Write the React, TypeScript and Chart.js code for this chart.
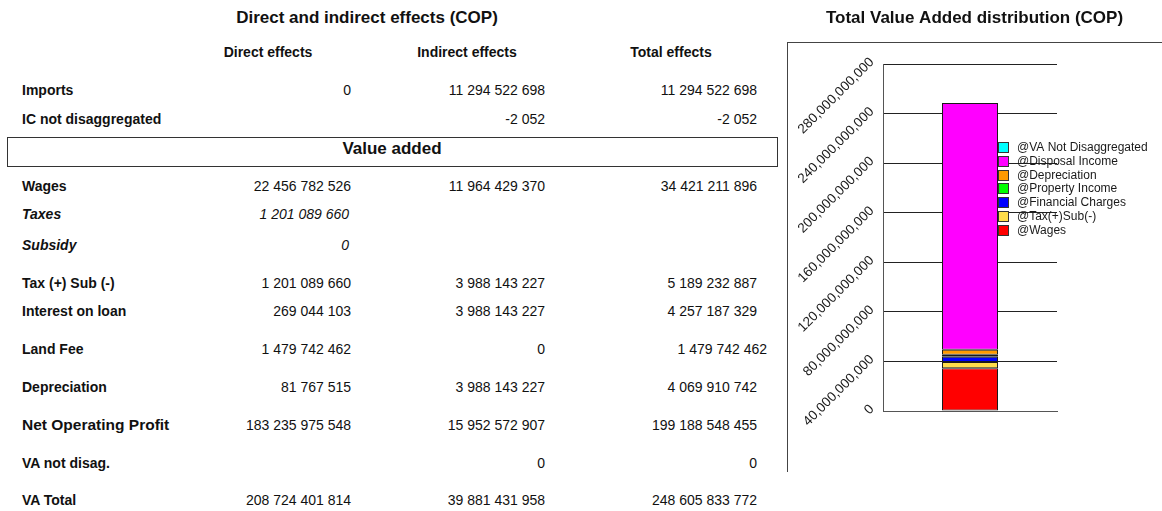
import React, { useEffect, useRef } from 'react';
import { Chart, registerables } from 'chart.js';

Chart.register(...registerables);

const FONT = '"Liberation Sans", Arial, sans-serif';

// ---------- Table data ----------
const tableTitle = 'Direct and indirect effects (COP)';
const columnHeaders = ['Direct effects', 'Indirect effects', 'Total effects'];
const sectionTitle = 'Value added';
const rowLabels = [
  'Imports',
  'IC not disaggregated',
  'Wages',
  'Taxes',
  'Subsidy',
  'Tax (+) Sub (-)',
  'Interest on loan',
  'Land Fee',
  'Depreciation',
  'Net Operating Profit',
  'VA not disag.',
  'VA Total',
];
const directEffects: (number | null)[] = [
  0, null, 22456782526, 1201089660, 0, 1201089660, 269044103, 1479742462, 81767515, 183235975548, null, 208724401814,
];
const indirectEffects: (number | null)[] = [
  11294522698, -2052, 11964429370, null, null, 3988143227, 3988143227, 0, 3988143227, 15952572907, 0, 39881431958,
];
const totalEffects: (number | null)[] = [
  11294522698, -2052, 34421211896, null, null, 5189232887, 4257187329, 1479742462, 4069910742, 199188548455, 0, 248605833772,
];

// ---------- Chart data ----------
const chartTitle = 'Total Value Added distribution (COP)';
const vaComponents = [
  '@Wages',
  '@Tax(+)Sub(-)',
  '@Financial Charges',
  '@Property Income',
  '@Depreciation',
  '@Disposal Income',
  '@VA Not Disaggregated',
];
const vaValues = [34421211896, 5189232887, 4257187329, 1479742462, 4069910742, 199188548455, 0];
const vaColors = ['#FF0000', '#FFDD4A', '#0000FF', '#00FF00', '#FF9900', '#FF00FF', '#00FFFF'];
const yAxisMin = 0;
const yAxisMax = 280000000000;
const yAxisStep = 40000000000;

// ---------- Layout (positions only) ----------
const rowY = [90, 119, 186, 214, 245, 283, 311, 349, 387, 425, 463, 500];
const italicRows = [3, 4];
const largeRows = [9];
const colRight = [351, 545, 757];
const colCenter = [268, 467, 671];

const fmt = (n: number | null) =>
  n === null ? '' : String(n).replace(/\B(?=(\d{3})+(?!\d))/g, ' ');

type TProps = {
  x: number;
  y: number;
  align?: 'left' | 'right' | 'center';
  size?: number;
  bold?: boolean;
  italic?: boolean;
  children: React.ReactNode;
};

function T({ x, y, align = 'left', size = 14, bold = false, italic = false, children }: TProps) {
  const w = 400;
  const left = align === 'left' ? x : align === 'right' ? x - w : x - w / 2;
  return (
    <div
      style={{
        position: 'absolute',
        left,
        top: y - 10,
        width: w,
        height: 20,
        lineHeight: '20px',
        textAlign: align,
        fontFamily: FONT,
        fontSize: size,
        fontWeight: bold ? 'bold' : 'normal',
        fontStyle: italic ? 'italic' : 'normal',
        color: '#111',
        whiteSpace: 'nowrap',
      }}
    >
      {children}
    </div>
  );
}

function VAChart() {
  const ref = useRef<HTMLCanvasElement>(null);
  useEffect(() => {
    if (!ref.current) return;
    const titlePlugin = {
      id: 'customTitle',
      afterDraw(chart: any) {
        const { ctx } = chart;
        ctx.save();
        ctx.font = `bold 17px ${FONT}`;
        ctx.fillStyle = '#111';
        ctx.textAlign = 'center';
        ctx.textBaseline = 'middle';
        ctx.fillText(chartTitle, chart.width / 2, 18);
        ctx.restore();
      },
    };
    const legendPlugin = {
      id: 'overlayLegend',
      afterDraw(chart: any) {
        const { ctx, chartArea } = chart;
        const bar = chart.getDatasetMeta(0).data[0] as any;
        const x0 = Math.round(bar.x + bar.width / 2);
        const top = chartArea.top + 78;
        ctx.save();
        ctx.font = `12px ${FONT}`;
        ctx.textBaseline = 'middle';
        ctx.textAlign = 'left';
        const ds = chart.data.datasets;
        for (let k = 0; k < ds.length; k++) {
          const d = ds[ds.length - 1 - k];
          const y = Math.round(top + k * 13.8);
          ctx.fillStyle = d.backgroundColor;
          ctx.fillRect(x0, y, 10, 10);
          ctx.strokeStyle = '#333';
          ctx.lineWidth = 1;
          ctx.strokeRect(x0 + 0.5, y + 0.5, 10, 10);
          ctx.fillStyle = '#1a1a1a';
          ctx.fillText(d.label, x0 + 19, y + 5.5);
        }
        ctx.restore();
      },
    };
    const chart = new Chart(ref.current, {
      type: 'bar',
      data: {
        labels: ['VA'],
        datasets: vaComponents.map((label, i) => ({
          label,
          data: [vaValues[i]],
          backgroundColor: vaColors[i],
          borderColor: '#1a1a1a',
          borderWidth: 1,
          borderSkipped: false,
          barPercentage: 0.322,
          categoryPercentage: 1,
        })),
      },
      options: {
        animation: false,
        responsive: false,
        layout: { padding: { left: 6, right: 105, top: 64, bottom: 100 } },
        plugins: {
          legend: { display: false },
          tooltip: { enabled: false },
          title: { display: false },
        },
        scales: {
          x: {
            stacked: true,
            ticks: { display: false },
            grid: { display: false },
            border: { display: true, color: '#555', width: 1 },
            afterFit: (s: any) => {
              s.height = 0;
            },
          },
          y: {
            stacked: true,
            min: yAxisMin,
            max: yAxisMax,
            ticks: {
              stepSize: yAxisStep,
              minRotation: 45,
              maxRotation: 45,
              padding: 11,
              labelOffset: -4,
              color: '#1a1a1a',
              font: { family: FONT, size: 13.5 },
              callback: (v: any) => Number(v).toLocaleString('en-US'),
            },
            grid: { color: '#222', drawTicks: false, lineWidth: 1 },
            border: { display: true, color: '#555', width: 1 },
            afterFit: (s: any) => {
              s.width = 90;
            },
          },
        },
      } as any,
      plugins: [titlePlugin, legendPlugin],
    });
    return () => chart.destroy();
  }, []);
  return (
    <canvas
      ref={ref}
      width={375}
      height={511}
      style={{ position: 'absolute', left: 787, top: 0, width: 375, height: 511, display: 'block' }}
    />
  );
}

export default function App() {
  return (
    <div style={{ position: 'absolute', left: 0, top: 0, width: 1162, height: 511, background: '#fff', overflow: 'hidden' }}>
      <T x={367} y={18} align="center" size={17} bold>
        {tableTitle}
      </T>
      {columnHeaders.map((h, i) => (
        <T key={h} x={colCenter[i]} y={52} align="center" bold>
          {h}
        </T>
      ))}
      <div
        style={{
          position: 'absolute',
          left: 7,
          top: 137,
          width: 771,
          height: 30,
          border: '1px solid #333',
          boxSizing: 'border-box',
        }}
      />
      <T x={392} y={149} align="center" size={17} bold>
        {sectionTitle}
      </T>
      {rowLabels.map((label, i) => {
        const italic = italicRows.includes(i);
        const large = largeRows.includes(i);
        const vals = [directEffects[i], indirectEffects[i], totalEffects[i]];
        return (
          <React.Fragment key={label}>
            <T x={22} y={rowY[i]} bold italic={italic} size={large ? 15.5 : 14}>
              {label}
            </T>
            {vals.map((v, c) => {
              let right = colRight[c];
              if (italic) right -= 2;
              if (c === 2 && label === 'Land Fee') right += 10;
              return (
                <T key={c} x={right} y={rowY[i]} align="right" italic={italic}>
                  {fmt(v)}
                </T>
              );
            })}
          </React.Fragment>
        );
      })}
      <div
        style={{
          position: 'absolute',
          left: 787,
          top: 42,
          width: 400,
          height: 430,
          borderLeft: '1px solid #444',
          borderTop: '1px solid #444',
          boxSizing: 'border-box',
        }}
      />
      <VAChart />
    </div>
  );
}
